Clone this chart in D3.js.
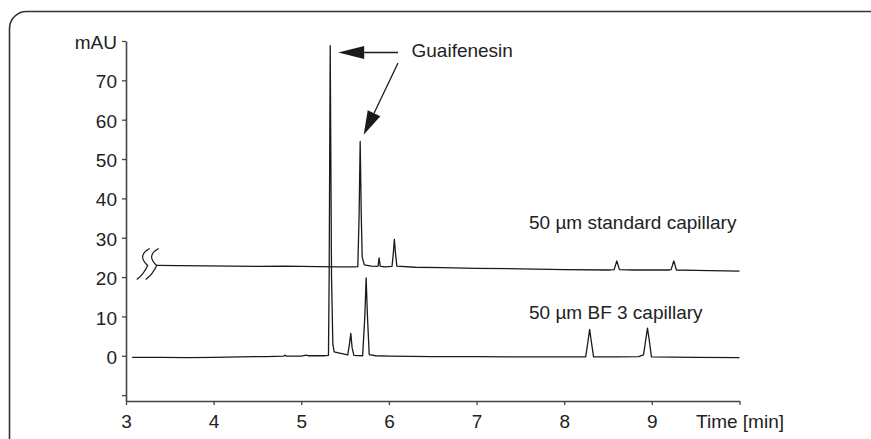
<!DOCTYPE html>
<html><head><meta charset="utf-8">
<script src="https://cdn.jsdelivr.net/npm/d3@7"></script>
<style>
html,body{margin:0;padding:0;background:#fff;}
svg{display:block;}
text{font-family:"Liberation Sans",Arial,sans-serif;fill:#222;}
</style></head>
<body>
<svg id="chart" width="871" height="439"></svg>
<script>
// ---- data ----
const stdTime   = [3.35,3.6,3.9,4.2,4.5,4.8,5.0,5.2,5.4,5.6,5.645,5.66,5.672,5.684,5.695,5.72,5.8,5.86,5.876,5.888,5.9,5.95,6.035,6.05,6.062,6.075,6.09,6.3,6.6,7.0,7.5,8.0,8.5,8.57,8.6,8.63,8.8,9.2,9.22,9.25,9.28,9.5,10.0];
const stdSignal = [22.95,22.9,22.85,22.8,22.7,22.75,22.7,22.65,22.6,22.6,22.65,36,54.5,36,25,23.1,22.8,22.7,22.8,24.9,22.8,22.6,22.7,26,29.6,26,22.8,22.5,22.4,22.2,22.1,21.9,21.8,21.9,24.1,21.9,21.8,21.8,21.9,24.1,21.8,21.7,21.5];

const bfTime   = [3.07,3.4,3.7,4.0,4.3,4.6,4.8,4.81,4.83,5.0,5.06,5.08,5.25,5.31,5.318,5.33,5.345,5.36,5.375,5.45,5.53,5.55,5.565,5.58,5.6,5.7,5.725,5.74,5.755,5.775,5.85,6.0,6.5,7.0,7.5,8.0,8.245,8.27,8.29,8.31,8.335,8.6,8.85,8.905,8.93,8.95,8.97,8.995,9.5,10.0];
const bfSignal = [-0.4,-0.4,-0.5,-0.4,-0.3,-0.2,-0.1,0.15,-0.1,-0.1,0.15,0,0,0.1,20,78.8,20,3,1.0,0.6,0.2,3,5.7,2,0.1,0,10,19.8,10,0.3,0,-0.1,-0.2,-0.2,-0.3,-0.3,-0.3,3.5,6.7,3.5,-0.3,-0.3,-0.2,0.2,4,7.0,4,-0.3,-0.4,-0.5];

const xTicks      = [3,4,5,6,7,8,9,10];
const xTickLabels = ["3","4","5","6","7","8","9","Time [min]"];
const yTicks      = [-10,0,10,20,30,40,50,60,70,80];
const yTickLabels = ["","0","10","20","30","40","50","60","70","mAU"];

const seriesLabels = ["50 µm standard capillary","50 µm BF 3 capillary"];
const annotation = "Guaifenesin";

// ---- layout ----
const svg = d3.select("#chart");
const x = d3.scaleLinear().domain([3,10]).range([126,739.5]);
const y = d3.scaleLinear().domain([-11.5,80]).range([401,41]);
const FS = 19;

// frame
svg.append("rect").attr("x",9.5).attr("y",11.5).attr("width",900).attr("height",460)
  .attr("rx",17).attr("fill","none").attr("stroke","#333").attr("stroke-width",1.6);

// axes
const xAxis = d3.axisBottom(x).tickValues(xTicks).tickFormat((d,i)=>xTickLabels[i])
  .tickSizeInner(4).tickSizeOuter(0).tickPadding(9.5);
const gx = svg.append("g").attr("transform",`translate(0,${y.range()[0]})`).call(xAxis);
const yAxis = d3.axisLeft(y).tickValues(yTicks).tickFormat((d,i)=>yTickLabels[i])
  .tickSizeInner(4).tickSizeOuter(0).tickPadding(5);
const gy = svg.append("g").attr("transform",`translate(${x.range()[0]},0)`).call(yAxis);
[gx,gy].forEach(g=>{
  g.selectAll("path.domain").attr("stroke","#444").attr("stroke-width",1.6);
  g.selectAll(".tick line").attr("stroke","#444").attr("stroke-width",1.3);
  g.selectAll(".tick text").attr("font-size",FS).attr("font-family",'"Liberation Sans",Arial,sans-serif').attr("fill","#222");
});
gy.selectAll(".tick text").attr("dy","0.4em");

// traces
const line = d3.line().x(d=>x(d[0])).y(d=>y(d[1]));
const stdData = stdTime.map((t,i)=>[t,stdSignal[i]]);
const bfData  = bfTime.map((t,i)=>[t,bfSignal[i]]);
[stdData,bfData].forEach(data=>{
  svg.append("path").datum(data).attr("d",line)
    .attr("fill","none").attr("stroke","#1a1a1a").attr("stroke-width",1.3).attr("stroke-linejoin","round");
});

// axis break symbol at start of standard trace
const bx = x(stdTime[0]), by = y(stdSignal[0]);
[-9,0].forEach(off=>{
  const o = bx+off;
  svg.append("path")
    .attr("d",`M${o+2},${by-17} Q${o-11},${by-10} ${o},${by} Q${o-4},${by+9} ${o-11},${by+14}`)
    .attr("fill","none").attr("stroke","#1a1a1a").attr("stroke-width",1.2);
});

// series labels
svg.append("text").attr("x",529).attr("y",228.5).attr("font-size",FS).text(seriesLabels[0]);
svg.append("text").attr("x",529).attr("y",318.8).attr("font-size",FS).text(seriesLabels[1]);

// annotation + arrows
svg.append("text").attr("x",411.5).attr("y",57.3).attr("font-size",FS).text(annotation);
function arrow(x1,y1,x2,y2,len,half){
  const dx=x2-x1, dy=y2-y1, L=Math.hypot(dx,dy), ux=dx/L, uy=dy/L;
  const bxp=x2-ux*len, byp=y2-uy*len;
  svg.append("line").attr("x1",x1).attr("y1",y1).attr("x2",bxp).attr("y2",byp)
    .attr("stroke","#1a1a1a").attr("stroke-width",1.3);
  svg.append("polygon").attr("points",
    `${x2},${y2} ${bxp-uy*half},${byp+ux*half} ${bxp+uy*half},${byp-ux*half}`)
    .attr("fill","#1a1a1a");
}
arrow(398,52.5, x(5.33)+8,52.5, 26,6.5);
arrow(398,63, x(5.672)+3.5, y(54.5)-6.5, 24,7);
</script>
</body></html>
